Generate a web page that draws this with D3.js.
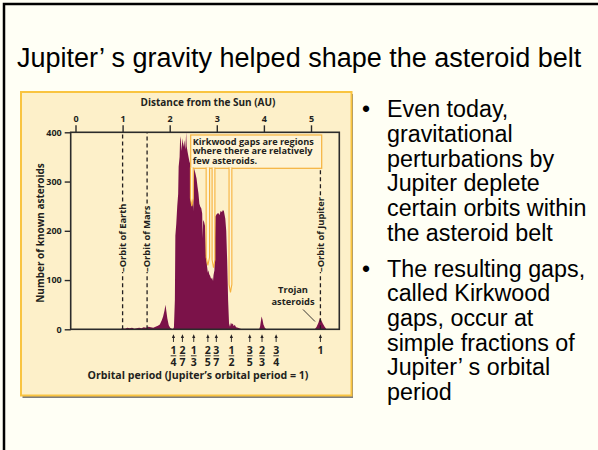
<!DOCTYPE html>
<html>
<head>
<meta charset="utf-8">
<script src="https://cdnjs.cloudflare.com/ajax/libs/d3/7.8.5/d3.min.js"></script>
<style>
	html, body { margin: 0; padding: 0; background: #fffff5; }
	svg { display: block; }
</style>
</head>
<body>
<script>
// histogram of known asteroids against distance from the Sun
var distanceAU = [
	0.95, 1.00, 1.05, 1.10, 1.15, 1.20, 1.25, 1.30, 1.35, 1.40, 1.45, 1.50, 1.55, 1.60, 1.65, 1.70,
	1.75, 1.79, 1.83, 1.86, 1.89, 1.91, 1.93, 1.95, 1.98, 2.01, 2.04, 2.07, 2.09, 2.11, 2.12, 2.14,
	2.16, 2.18, 2.19, 2.21, 2.22, 2.23, 2.25, 2.27, 2.29, 2.31, 2.33, 2.34, 2.35, 2.36, 2.38, 2.40,
	2.42, 2.44, 2.46, 2.48, 2.50, 2.51, 2.52, 2.55, 2.57, 2.59, 2.61, 2.63, 2.65, 2.67, 2.69, 2.70,
	2.71, 2.73, 2.75, 2.77, 2.79, 2.81, 2.82, 2.84, 2.86, 2.88, 2.90, 2.92, 2.93, 2.95, 2.97, 3.00,
	3.03, 3.06, 3.08, 3.11, 3.13, 3.15, 3.18, 3.20, 3.22, 3.24, 3.26, 3.28, 3.30, 3.32, 3.34, 3.36,
	3.38, 3.41, 3.45, 3.50, 3.55, 3.90, 3.92, 3.95, 3.97, 3.99, 4.02, 4.05, 5.08, 5.12, 5.16, 5.19,
	5.21, 5.25, 5.29, 5.33
];
var asteroidCount = [
	0, 2, 1, 3, 2, 3, 1, 2, 3, 2, 4, 3, 5, 4, 3, 5,
	7, 10, 18, 26, 38, 50, 36, 22, 8, 3, 1, 0, 4, 60, 190, 215,
	250, 275, 330, 350, 385, 392, 362, 388, 370, 384, 365, 380, 400, 372, 360, 350,
	340, 335, 320, 290, 240, 300, 327, 315, 306, 290, 276, 255, 249, 246, 235, 185,
	222, 218, 210, 150, 130, 115, 120, 112, 108, 102, 105, 98, 110, 120, 229, 234,
	236, 232, 240, 238, 242, 240, 225, 200, 140, 60, 12, 5, 14, 10, 12, 6,
	9, 4, 3, 1, 0, 0, 6, 26, 20, 10, 3, 0, 0, 5, 14, 23,
	20, 12, 5, 0
];

var xTicks = [0, 1, 2, 3, 4, 5];
var yTicks = [0, 100, 200, 300, 400];

var orbitNames = ['Earth', 'Mars', 'Jupiter'];
var orbitAU = [1.0, 1.52, 5.2];

// Kirkwood gap pointers: where they sit and how deep they reach
var gapAU = [2.47, 2.81, 2.93, 3.29];
var gapDepth = [250, 130, 125, 75];

// resonances marked under the axis
var resonanceAU = [2.08, 2.27, 2.51, 2.81, 2.99, 3.31, 3.70, 3.96, 4.26, 5.20];
var resonanceNum = ['1', '2', '1', '2', '3', '1', '3', '2', '3', '1'];
var resonanceDen = ['4', '7', '3', '5', '7', '2', '5', '3', '4', ''];

var slideTitle = 'Jupiter\u2019 s gravity helped shape the asteroid belt';
var bulletLines = [
	['Even today,', 'gravitational', 'perturbations by', 'Jupiter deplete', 'certain orbits within', 'the asteroid belt'],
	['The resulting gaps,', 'called Kirkwood', 'gaps, occur at', 'simple fractions of', 'Jupiter\u2019 s orbital', 'period']
];
var kirkwoodNote = ['Kirkwood gaps are regions', 'where there are relatively', 'few asteroids.'];

var INK = '#231f20',
	MAROON = '#7b1249',
	PANEL = '#fdf0c9',
	ORANGE = '#f6b23c',
	CHART_FONT = '"Open Sans", "Noto Sans", sans-serif',
	SLIDE_FONT = '"Liberation Sans", Arial, sans-serif';

var svg = d3.select('body').append('svg')
	.attr('width', 598)
	.attr('height', 450);

//////////////////////////////////////////////////
// slide frame, title and bullets
//////////////////////////////////////////////////
svg.append('rect')
	.attr('x', 4).attr('y', 4)
	.attr('width', 620).attr('height', 470)
	.attr('fill', '#fffff5')
	.attr('stroke', '#000')
	.attr('stroke-width', 2.5);

svg.append('text')
	.attr('x', 17).attr('y', 67)
	.style('font-family', SLIDE_FONT)
	.style('font-size', '27px')
	.attr('fill', '#000')
	.text(slideTitle);

var lineStep = 24.7;
var blockTop = [117.3, 276.5];
bulletLines.forEach(function(lines, b) {
	svg.append('text')
		.attr('x', 362).attr('y', blockTop[b])
		.style('font-family', SLIDE_FONT)
		.style('font-size', '23px')
		.text('\u2022');
	lines.forEach(function(line, i) {
		svg.append('text')
			.attr('x', 387).attr('y', blockTop[b] + i * lineStep)
			.style('font-family', SLIDE_FONT)
			.style('font-size', '23.3px')
			.attr('fill', '#000')
			.text(line);
	});
});

//////////////////////////////////////////////////
// figure panel
//////////////////////////////////////////////////
svg.append('rect')
	.attr('x', 22.5).attr('y', 94)
	.attr('width', 330.5).attr('height', 304)
	.attr('fill', '#7d7d7d');
svg.append('rect')
	.attr('x', 21).attr('y', 92)
	.attr('width', 330.5).attr('height', 303.5)
	.attr('fill', PANEL)
	.attr('stroke', '#f9c440')
	.attr('stroke-width', 2);

var plot = {left: 70.7, right: 339.3, top: 132.3, bottom: 329.3};

var x = d3.scaleLinear().domain([0, 5]).range([75.5, 311]);
var y = d3.scaleLinear().domain([0, 400]).range([plot.bottom, plot.top]);

var rows = distanceAU.map(function(d, i) { return {au: d, n: asteroidCount[i]}; });

svg.append('path')
	.datum(rows)
	.attr('fill', MAROON)
	.attr('d', d3.area()
		.x(function(d) { return x(d.au); })
		.y0(y(0))
		.y1(function(d) { return y(d.n); }));

// orbit markers
var chart = svg.append('g').style('font-family', CHART_FONT).style('font-weight', 700);

orbitAU.forEach(function(au, i) {
	var ox = x(au), start = 272;
	var label = chart.append('text')
		.attr('transform', 'translate(' + ox + ',' + start + ') rotate(-90)')
		.attr('dy', '0.35em')
		.style('font-size', '9.3px')
		.attr('fill', INK)
		.text('\u2013Orbit of ' + orbitNames[i]);
	var len = label.node().getComputedTextLength();
	[[plot.bottom, start], [start - len - 2, plot.top]].forEach(function(seg) {
		chart.append('line')
			.attr('x1', ox).attr('x2', ox)
			.attr('y1', seg[0]).attr('y2', seg[1])
			.attr('stroke', INK)
			.attr('stroke-width', 1.3)
			.attr('stroke-dasharray', '4,3');
	});
});

// plot frame
svg.append('rect')
	.attr('x', plot.left).attr('y', plot.top)
	.attr('width', plot.right - plot.left)
	.attr('height', plot.bottom - plot.top)
	.attr('fill', 'none')
	.attr('stroke', '#2b2b2b')
	.attr('stroke-width', 1.6);

//////////////////////////////////////////////////
// axes
//////////////////////////////////////////////////
var topAxis = chart.append('g')
	.attr('transform', 'translate(0,' + plot.top + ')')
	.call(d3.axisTop(x).tickValues(xTicks).tickFormat(d3.format('d')).tickSize(7).tickPadding(3));
var leftAxis = chart.append('g')
	.attr('transform', 'translate(' + plot.left + ',0)')
	.call(d3.axisLeft(y).tickValues(yTicks).tickFormat(d3.format('d')).tickSize(6).tickPadding(3));
[topAxis, leftAxis].forEach(function(g) {
	g.select('.domain').remove();
	g.selectAll('line').attr('stroke', '#2b2b2b').attr('stroke-width', 1.4);
	g.selectAll('text')
		.attr('fill', INK)
		.style('font-family', CHART_FONT)
		.style('font-weight', 700)
		.style('font-size', '9px');
});

chart.append('text')
	.attr('x', 208).attr('y', 106)
	.attr('text-anchor', 'middle')
	.style('font-size', '10px')
	.attr('fill', INK)
	.text('Distance from the Sun (AU)');

chart.append('text')
	.attr('transform', 'translate(40,233) rotate(-90)')
	.attr('text-anchor', 'middle')
	.attr('dy', '0.35em')
	.style('font-size', '10px')
	.attr('fill', INK)
	.text('Number of known asteroids');

chart.append('text')
	.attr('x', 198).attr('y', 379)
	.attr('text-anchor', 'middle')
	.style('font-size', '10.6px')
	.attr('fill', INK)
	.text('Orbital period (Jupiter\u2019s orbital period = 1)');

// resonance arrows and fractions
resonanceAU.forEach(function(au, i) {
	var rx = x(au);
	chart.append('line')
		.attr('x1', rx).attr('x2', rx)
		.attr('y1', 342).attr('y2', 337)
		.attr('stroke', INK).attr('stroke-width', 0.9);
	chart.append('path')
		.attr('d', 'M' + (rx - 1.6) + ',' + 338 + 'L' + rx + ',' + 334.3 + 'L' + (rx + 1.6) + ',' + 338 + 'Z')
		.attr('fill', INK);
	chart.append('text')
		.attr('x', rx).attr('y', 353.5)
		.attr('text-anchor', 'middle')
		.style('font-size', '10.5px')
		.attr('fill', INK)
		.text(resonanceNum[i]);
	if (resonanceDen[i]) {
		chart.append('line')
			.attr('x1', rx - 2.8).attr('x2', rx + 2.8)
			.attr('y1', 355.8).attr('y2', 355.8)
			.attr('stroke', INK).attr('stroke-width', 0.9);
		chart.append('text')
			.attr('x', rx).attr('y', 366)
			.attr('text-anchor', 'middle')
			.style('font-size', '10.5px')
			.attr('fill', INK)
			.text(resonanceDen[i]);
	}
});

//////////////////////////////////////////////////
// Kirkwood note and gap pointers
//////////////////////////////////////////////////
var note = {left: 190.7, right: 321.7, top: 135, bottom: 168.3};
svg.append('rect')
	.attr('x', note.left).attr('y', note.top)
	.attr('width', note.right - note.left)
	.attr('height', note.bottom - note.top)
	.attr('fill', '#fef4d6')
	.attr('stroke', ORANGE)
	.attr('stroke-width', 1.2);

gapAU.forEach(function(au, i) {
	var gx = x(au), w = i === 1 ? 1.7 : 1.4, tip = y(gapDepth[i]);
	svg.append('path')
		.attr('d', 'M' + (gx - w) + ',' + (note.bottom - 0.8)
			+ 'L' + (gx - w) + ',' + (tip - 8)
			+ 'L' + gx + ',' + tip
			+ 'L' + (gx + w) + ',' + (tip - 8)
			+ 'L' + (gx + w) + ',' + (note.bottom - 0.8))
		.attr('fill', '#fef4d6')
		.attr('stroke', ORANGE)
		.attr('stroke-width', 1.1);
});

var noteText = svg.append('g').style('font-family', CHART_FONT).style('font-weight', 700);
kirkwoodNote.forEach(function(line, i) {
	noteText.append('text')
		.attr('x', 192.7).attr('y', 144.6 + i * 9.7)
		.style('font-size', '9.2px')
		.attr('fill', INK)
		.text(line);
});

// Trojan label
chart.append('text')
	.attr('x', 293).attr('y', 292.8)
	.attr('text-anchor', 'middle')
	.style('font-size', '9.3px')
	.attr('fill', INK)
	.text('Trojan');
chart.append('text')
	.attr('x', 293).attr('y', 304.5)
	.attr('text-anchor', 'middle')
	.style('font-size', '9.3px')
	.attr('fill', INK)
	.text('asteroids');
chart.append('line')
	.attr('x1', 303).attr('y1', 309.5)
	.attr('x2', 315).attr('y2', 321.5)
	.attr('stroke', INK).attr('stroke-width', 0.9);
</script>
</body>
</html>
